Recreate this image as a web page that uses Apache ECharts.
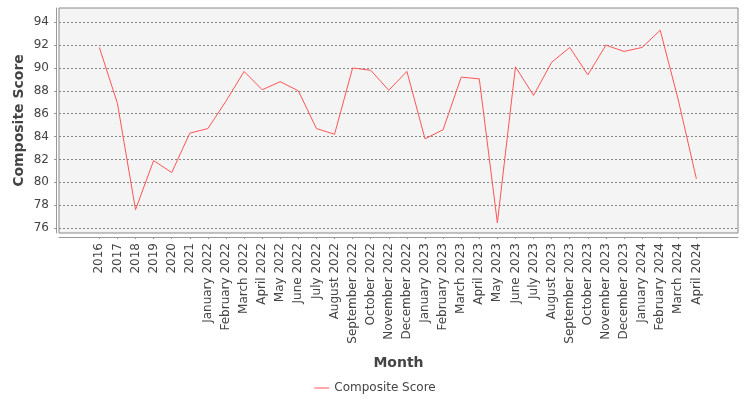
<!DOCTYPE html>
<html>
<head>
<meta charset="utf-8">
<title>Composite Score</title>
<script src="https://cdn.jsdelivr.net/npm/echarts@6/dist/echarts.min.js"></script>
<style>
    html, body { margin: 0; padding: 0; background: #fff; }
    #main { width: 750px; height: 400px; }
</style>
</head>
<body>
<div id="main"></div>
<script>
// categories on the x axis
var months = [
    '2016', '2017', '2018', '2019', '2020', '2021',
    'January 2022', 'February 2022', 'March 2022', 'April 2022', 'May 2022', 'June 2022',
    'July 2022', 'August 2022', 'September 2022', 'October 2022', 'November 2022', 'December 2022',
    'January 2023', 'February 2023', 'March 2023', 'April 2023', 'May 2023', 'June 2023',
    'July 2023', 'August 2023', 'September 2023', 'October 2023', 'November 2023', 'December 2023',
    'January 2024', 'February 2024', 'March 2024', 'April 2024'
];
// composite score per month
var scores = [
    91.8, 86.9, 77.6, 81.9, 80.85, 84.3,
    84.7, 87.1, 89.7, 88.1, 88.8, 88.0,
    84.7, 84.2, 90.0, 89.8, 88.05, 89.7,
    83.8, 84.6, 89.2, 89.05, 76.45, 90.1,
    87.6, 90.5, 91.8, 89.4, 92.0, 91.45,
    91.8, 93.3, 87.2, 80.3
];
// y tick labels
var yTicks = [76, 78, 80, 82, 84, 86, 88, 90, 92, 94];

var xIndex = months.map(function (m, i) { return i; });
var points = scores.map(function (v, i) { return [i, v]; });

var myChart = echarts.init(document.getElementById('main'));
var option = {
    animation: false,
    textStyle: { fontFamily: 'DejaVu Sans' },
    grid: {
        left: 59, right: 12, top: 8, bottom: 167,
        show: true,
        backgroundColor: '#f4f4f4',
        borderColor: '#888',
        borderWidth: 1
    },
    legend: {
        data: ['Composite Score'],
        left: 'center',
        top: 377,
        icon: 'rect',
        itemWidth: 15,
        itemHeight: 1,
        itemGap: 5,
        textStyle: { color: '#444', fontSize: 12, fontFamily: 'DejaVu Sans' }
    },
    xAxis: {
        type: 'value',
        min: -2.23,
        max: 35.3,
        offset: 4,
        name: 'Month',
        nameLocation: 'middle',
        nameGap: 119,
        nameMoveOverlap: false,
        nameTextStyle: { color: '#444', fontSize: 14, fontWeight: 'bold' },
        axisLine: { show: true, onZero: false, lineStyle: { color: '#999' } },
        axisTick: { show: true, length: 2, customValues: xIndex, lineStyle: { color: '#999' } },
        axisLabel: {
            customValues: xIndex,
            rotate: 90,
            margin: 6,
            fontSize: 12,
            color: '#444',
            formatter: function (v) { return months[v]; }
        },
        splitLine: { show: false }
    },
    yAxis: {
        type: 'value',
        min: 75.56,
        max: 95.25,
        splitNumber: 10,
        offset: 3,
        name: 'Composite Score',
        nameLocation: 'middle',
        nameGap: 30,
        nameMoveOverlap: false,
        nameTextStyle: { color: '#444', fontSize: 14, fontWeight: 'bold' },
        axisLine: { show: true, onZero: false, lineStyle: { color: '#999' } },
        axisTick: { show: true, length: 2, customValues: yTicks, lineStyle: { color: '#999' } },
        axisLabel: { customValues: yTicks, margin: 7, fontSize: 12, color: '#444' },
        splitLine: { show: true, lineStyle: { color: '#888', type: [2, 2], width: 1 } }
    },
    series: [
        {
            name: 'Composite Score',
            type: 'line',
            data: points,
            symbol: 'none',
            lineStyle: { color: '#ff5555', width: 1 },
            itemStyle: { color: '#ff5555' }
        }
    ]
};
myChart.setOption(option);
</script>
</body>
</html>
